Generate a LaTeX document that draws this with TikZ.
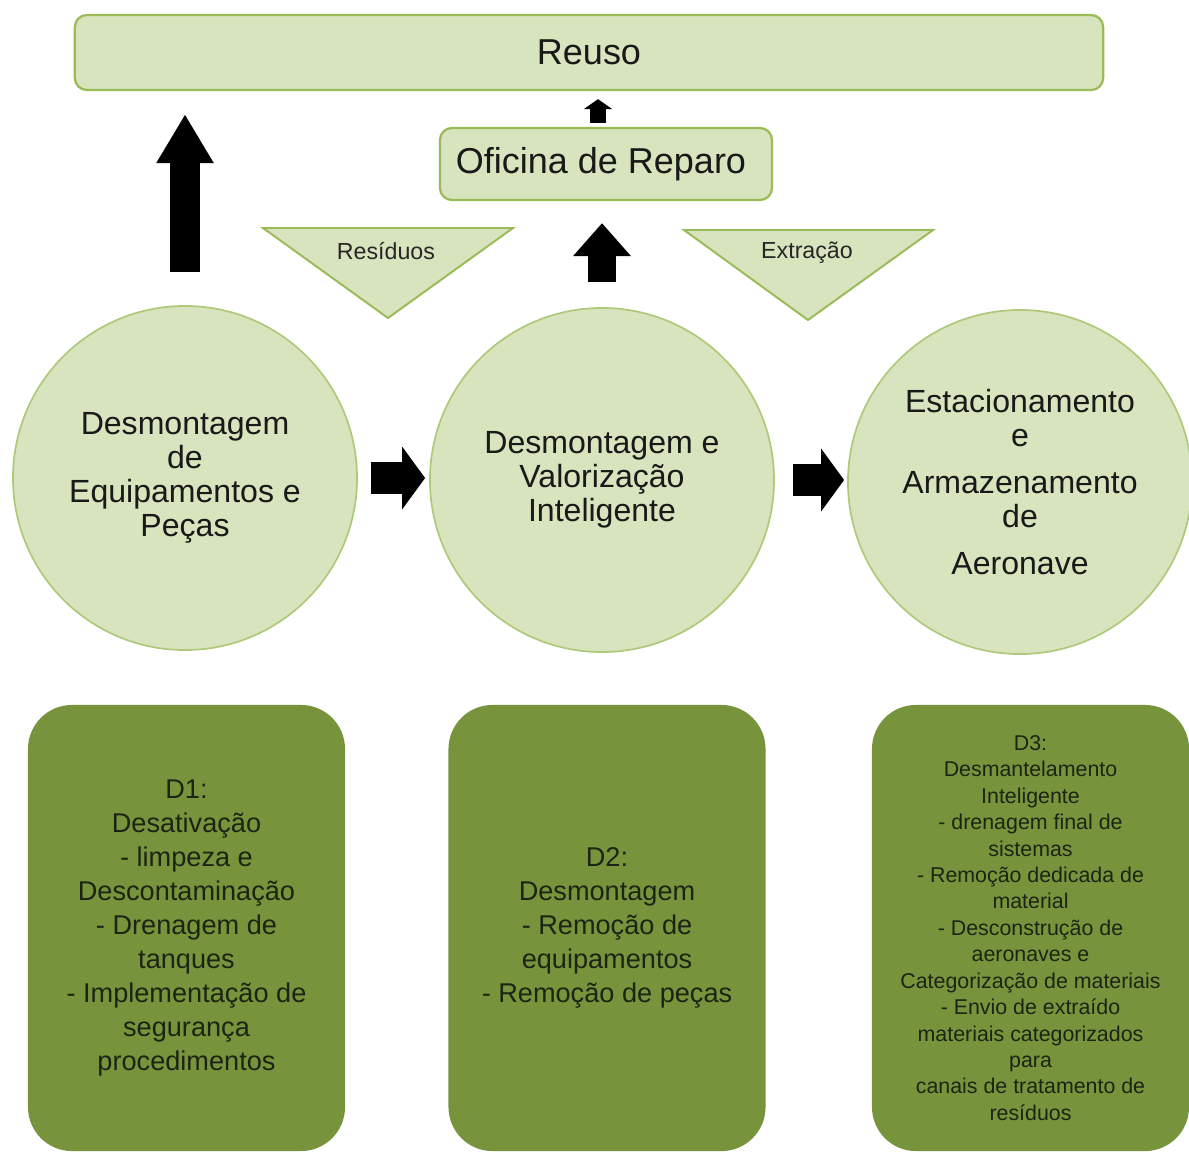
\documentclass[tikz,border=0pt]{standalone}
\usepackage{fontspec}
\setmainfont{Liberation Sans}
\usetikzlibrary{arrows.meta}
\definecolor{lightfill}{HTML}{D7E4BD}
\definecolor{lightdraw}{HTML}{9BBB59}
\definecolor{darkfill}{HTML}{77933C}
\definecolor{darktext}{HTML}{1C2414}
\tikzset{
  lightbox/.style={draw=lightdraw, line width=1.6pt, fill=lightfill, rounded corners=0.3cm, inner sep=0pt, text=black!90},
  phase/.style={circle, draw=lightdraw!80, line width=1.2pt, fill=lightfill, minimum size=8.6cm, inner sep=0pt, align=center, text=black!90, font=\fontsize{22.8}{24.2}\selectfont},
  stagebox/.style={draw=none, fill=darkfill, rounded corners=1.1cm, minimum width=7.925cm, minimum height=11.15cm, inner sep=0pt, align=center, text=darktext},
  tri/.style={draw=lightdraw, line width=1.4pt, fill=lightfill, line join=miter},
  trilabel/.style={font=\fontsize{16.5}{18}\selectfont, text=black!85},
}
\begin{document}
\begin{tikzpicture}[x=0.025cm, y=-0.025cm]
\useasboundingbox (0,0) rectangle (1189,1151);
\fill[white] (0,0) rectangle (1189,1151);

% top boxes
\node[lightbox, minimum width=25.7cm, minimum height=1.875cm, font=\fontsize{25.6}{28}\selectfont] (reuso) at (589,52.5) {Reuso};
\node[lightbox, minimum width=8.3cm, minimum height=1.8cm, font=\fontsize{25.6}{28}\selectfont] (oficina) at (606,164) {\hspace*{-0.25cm}Oficina de Reparo};

% inverted triangles
\draw[tri] (263,228) -- (513,228) -- (388,318) -- cycle;
\node[trilabel] (residuos) at (386,251) {Resíduos};
\draw[tri] (684,230) -- (933,230) -- (808,320) -- cycle;
\node[trilabel] (extracao) at (807,253) {Extração};

% circles
\node[phase] (c1) at (185,478) {Desmontagem\\de\\Equipamentos e\\Peças};
\node[phase] (c2) at (602,480) {Desmontagem e\\Valorização\\Inteligente};
\node[phase] (c3) at (1020,482) {Estacionamento\\e\\[9.2pt]Armazenamento\\de\\[9.2pt]Aeronave};

% bottom boxes
\node[stagebox, font=\fontsize{19.3}{24.2}\selectfont] (d1) at (186.5,928) {D1:\\Desativação\\- limpeza e\\Descontaminação\\- Drenagem de\\tanques\\- Implementação de\\segurança\\procedimentos};
\node[stagebox, font=\fontsize{19.3}{24.2}\selectfont] (d2) at (607,928) {D2:\\Desmontagem\\- Remoção de\\equipamentos\\- Remoção de peças};
\node[stagebox, font=\fontsize{15.2}{18.8}\selectfont] (d3) at (1030.5,928) {D3:\\Desmantelamento\\Inteligente\\- drenagem final de\\sistemas\\- Remoção dedicada de\\material\\- Desconstrução de\\aeronaves e\\Categorização de materiais\\- Envio de extraído\\materiais categorizados\\para\\canais de tratamento de\\resíduos};

% block arrows
\draw[line width=21.3pt, -{Triangle[length=34.9pt, width=38.4pt]}, shorten <=0.825cm, shorten >=0.575cm]
  (c1.north) -- (c1.north |- reuso.south);
\draw[line width=19.9pt, -{Triangle[length=23.5pt, width=39.8pt]}, shorten <=0.625cm, shorten >=0.55cm]
  (c2.north) -- (c2.north |- oficina.south);
\draw[line width=11.4pt, -{Triangle[length=7.1pt, width=19.9pt]}, shorten <=0.1cm, shorten >=0.2cm]
  ([xshift=-0.2cm]oficina.north) -- ([xshift=-0.2cm]oficina.north |- reuso.south);
\draw[line width=22.8pt, -{Triangle[length=16.4pt, width=44pt]}, shorten <=0.325cm, shorten >=0.1cm]
  (c1.east) -- (c1.east -| c2.west);
\draw[line width=22.8pt, -{Triangle[length=16.4pt, width=44pt]}, shorten <=0.45cm, shorten >=0.075cm]
  (c2.east) -- (c2.east -| c3.west);
\end{tikzpicture}
\end{document}
